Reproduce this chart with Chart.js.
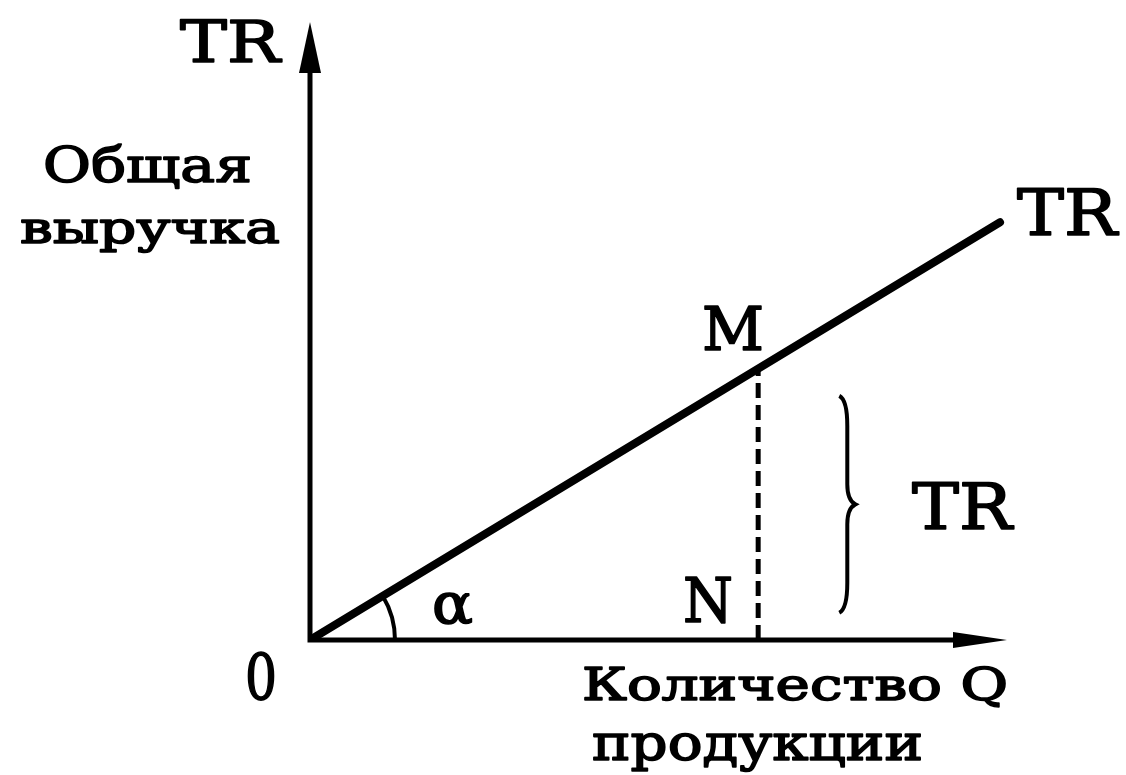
<!DOCTYPE html>
<html>
<head>
<meta charset="utf-8">
<script src="https://cdn.jsdelivr.net/npm/chart.js@4"></script>
<style>
    html, body { margin: 0; padding: 0; background: #fff; }
    #wrap { width: 1126px; height: 775px; }
</style>
</head>
<body>
<div id="wrap"><canvas id="trChart" width="1126" height="775"></canvas></div>
<script>
// TR line (total revenue grows linearly with Q)
const qValues = [0, 9.9];
const trValues = [0, 6.76];

// Point M on the line and its projection N on the Q axis
const mQ = [6.43, 6.43];
const mTR = [0, 4.39];

// Scale ranges (arbitrary units)
const qRange = [0, 10];
const trRange = [0, 10];

const fontName = "'DejaVu Serif', 'Liberation Serif', serif";

// Draw a label stretched to a given width (the source font is very wide)
function text(ctx, str, left, baseline, size, width) {
    ctx.font = size + "px " + fontName;
    ctx.textAlign = "left";
    ctx.textBaseline = "alphabetic";
    const w = ctx.measureText(str).width;
    ctx.save();
    ctx.translate(left, baseline);
    ctx.scale(width / w, 1);
    ctx.lineWidth = 1.6;
    ctx.lineJoin = "round";
    ctx.fillText(str, 0, 0);
    ctx.strokeText(str, 0, 0);
    ctx.restore();
}

// Axes with arrows, angle arc, brace and labels
const diagramPlugin = {
    id: "diagram",
    afterDatasetsDraw(chart) {
        const ctx = chart.ctx;
        const xs = chart.scales.x;
        const ys = chart.scales.y;
        const x0 = xs.getPixelForValue(0);
        const y0 = ys.getPixelForValue(0);
        const xEnd = xs.getPixelForValue(qRange[1]);
        const yEnd = ys.getPixelForValue(trRange[1]);

        ctx.save();
        ctx.strokeStyle = "#000";
        ctx.fillStyle = "#000";
        ctx.lineCap = "butt";

        // axes
        ctx.lineWidth = 5;
        ctx.beginPath();
        ctx.moveTo(x0, y0 + 2.5);
        ctx.lineTo(x0, yEnd + 40);
        ctx.moveTo(x0 - 2.5, y0);
        ctx.lineTo(xEnd - 40, y0);
        ctx.stroke();

        // y arrow
        ctx.beginPath();
        ctx.moveTo(x0, yEnd);
        ctx.lineTo(x0 + 11, yEnd + 51);
        ctx.lineTo(x0 - 11, yEnd + 51);
        ctx.closePath();
        ctx.fill();

        // x arrow
        ctx.beginPath();
        ctx.moveTo(xEnd, y0);
        ctx.lineTo(xEnd - 54, y0 - 8);
        ctx.lineTo(xEnd - 54, y0 + 8);
        ctx.closePath();
        ctx.fill();

        // angle alpha
        const ang = Math.atan2(
            ys.getPixelForValue(0) - ys.getPixelForValue(trValues[1]),
            xs.getPixelForValue(qValues[1]) - x0);
        ctx.lineWidth = 4;
        ctx.beginPath();
        ctx.arc(x0, y0, 85, -ang, 0);
        ctx.stroke();

        // brace
        const bx = xs.getPixelForValue(7.68);
        const bTop = ys.getPixelForValue(3.95);
        const bBot = ys.getPixelForValue(0.44);
        const bMid = (bTop + bBot) / 2;
        ctx.lineWidth = 4;
        ctx.beginPath();
        ctx.moveTo(bx - 6, bTop);
        ctx.quadraticCurveTo(bx + 2, bTop + 4, bx + 2, bTop + 30);
        ctx.lineTo(bx + 2, bMid - 20);
        ctx.quadraticCurveTo(bx + 2, bMid - 4, bx + 10, bMid);
        ctx.quadraticCurveTo(bx + 2, bMid + 4, bx + 2, bMid + 20);
        ctx.lineTo(bx + 2, bBot - 30);
        ctx.quadraticCurveTo(bx + 2, bBot - 4, bx - 6, bBot);
        ctx.stroke();

        // labels
        text(ctx, "TR", 180, 62, 58, 100);
        text(ctx, "Общая", 43, 182, 48, 209);
        text(ctx, "выручка", 20, 243, 44, 260);
        text(ctx, "TR", 1017, 235, 64, 100);
        text(ctx, "M", 702, 350, 59, 62);
        text(ctx, "N", 683, 622, 62, 50);
        text(ctx, "TR", 912, 529, 64, 100);
        text(ctx, "α", 432, 623, 56, 41);
        text(ctx, "0", 245, 700, 64, 32);
        text(ctx, "Количество Q", 582, 700, 44, 426);
        text(ctx, "продукции", 592, 760, 50, 331);

        ctx.restore();
    }
};

const ctx = document.getElementById("trChart").getContext("2d");
new Chart(ctx, {
    type: "scatter",
    data: {
        datasets: [
            {
                label: "TR",
                data: qValues.map((q, i) => ({ x: q, y: trValues[i] })),
                showLine: true,
                borderColor: "#000",
                borderWidth: 8,
                pointRadius: 0,
                borderCapStyle: "round"
            },
            {
                label: "MN",
                data: mQ.map((q, i) => ({ x: q, y: mTR[i] })),
                showLine: true,
                borderColor: "#000",
                borderWidth: 5,
                borderDash: [15, 7],
                pointRadius: 0
            }
        ]
    },
    options: {
        responsive: false,
        animation: false,
        layout: {
            padding: { left: 310, right: 119, top: 22, bottom: 135 }
        },
        plugins: {
            legend: { display: false },
            tooltip: { enabled: false }
        },
        scales: {
            x: { type: "linear", min: qRange[0], max: qRange[1], display: false },
            y: { type: "linear", min: trRange[0], max: trRange[1], display: false }
        }
    },
    plugins: [diagramPlugin]
});
</script>
</body>
</html>
